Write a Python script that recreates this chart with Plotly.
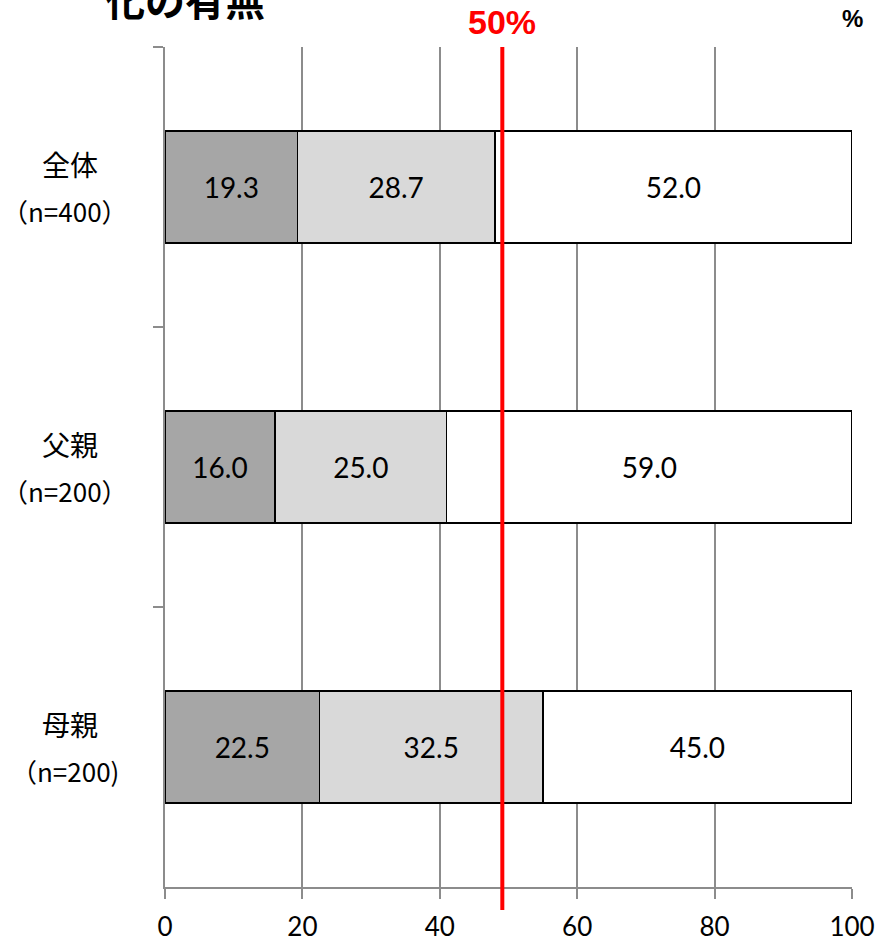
import plotly.graph_objects as go

categories = ["全体", "父親", "母親"]
category_sublabels = ["（n=400）", "（n=200）", "（n=200)"]
series_names = ["系列1", "系列2", "系列3"]
series_values = [
    [19.3, 16.0, 22.5],
    [28.7, 25.0, 32.5],
    [52.0, 59.0, 45.0],
]
series_colors = ["#a6a6a6", "#d9d9d9", "#ffffff"]
x_ticks = [0, 20, 40, 60, 80, 100]
ref_line_value = 49.1
ref_line_label = "50%"
unit_label = "%"
title_text = "化の有無"

W, H = 875, 943
ML, MR, MT, MB = 165, 23, 47, 56
PW, PH = W - ML - MR, H - MT - MB

NUM_FONT = "Lato, 'Noto Sans CJK JP', sans-serif"
JP_FONT = "'Noto Sans CJK JP', sans-serif"

fig = go.Figure()
for name, vals, col in zip(series_names, series_values, series_colors):
    fig.add_trace(go.Bar(
        y=categories, x=vals, name=name, orientation="h",
        marker=dict(color=col, line=dict(color="#000000", width=1.5)),
        width=0.4,
        text=[f"{v:.1f}" for v in vals],
        textposition="inside", insidetextanchor="middle",
        textfont=dict(family=NUM_FONT, size=28, color="#000000"),
        constraintext="none",
        showlegend=False, hoverinfo="skip",
    ))

fig.update_layout(
    barmode="stack",
    width=W, height=H, autosize=False,
    margin=dict(l=ML, r=MR, t=MT, b=MB, autoexpand=False),
    paper_bgcolor="white", plot_bgcolor="white",
)
fig.update_xaxes(
    range=[0, 100], tickvals=x_ticks, ticktext=[str(t) for t in x_ticks],
    showgrid=True, gridcolor="#8c8c8c", gridwidth=2,
    showline=True, linecolor="#8c8c8c", linewidth=2,
    ticks="outside", ticklen=10, tickwidth=2, tickcolor="#8c8c8c",
    ticklabelstandoff=6,
    tickfont=dict(family=NUM_FONT, size=26, color="#000000"),
    zeroline=False, fixedrange=True, automargin=False,
)
fig.update_yaxes(
    categoryorder="array", categoryarray=categories,
    autorange="reversed",
    showticklabels=False,
    showline=True, linecolor="#8c8c8c", linewidth=2,
    ticks="outside", ticklen=10, tickwidth=2, tickcolor="#8c8c8c",
    tickson="boundaries",
    showgrid=False, zeroline=False, fixedrange=True, automargin=False,
)

for cat, sub in zip(categories, category_sublabels):
    fig.add_annotation(
        x=(70 - ML) / PW, xref="paper", y=cat, yref="y", yshift=23,
        text=cat, showarrow=False,
        xanchor="center", yanchor="middle",
        font=dict(family=JP_FONT, size=28, color="#000000"),
    )
    fig.add_annotation(
        x=(65 - ML) / PW, xref="paper", y=cat, yref="y", yshift=-23,
        text=sub, showarrow=False,
        xanchor="center", yanchor="middle",
        font=dict(family=JP_FONT, size=26, color="#000000"),
    )

fig.add_shape(
    type="line", x0=ref_line_value, x1=ref_line_value, xref="x",
    y0=1, y1=-23 / PH, yref="paper",
    line=dict(color="#ff0000", width=4), layer="above",
)
fig.add_annotation(
    x=ref_line_value, xref="x", y=1 + 25 / PH, yref="paper",
    text=f"<b>{ref_line_label}</b>", showarrow=False,
    xanchor="center", yanchor="middle",
    font=dict(family="'Liberation Sans', Arial, sans-serif", size=34, color="#ff0000"),
)
fig.add_annotation(
    x=1, xref="paper", y=1 + 28 / PH, yref="paper",
    text=f"<b>{unit_label}</b>", showarrow=False,
    xanchor="center", yanchor="middle",
    font=dict(family="'Liberation Sans', Arial, sans-serif", size=24, color="#000000"),
)
fig.add_annotation(
    x=(185 - ML) / PW, xref="paper", y=1 + 17 / PH, yref="paper",
    text=f"<b>{title_text}</b>", showarrow=False,
    xanchor="center", yanchor="bottom",
    font=dict(family=JP_FONT, size=40, color="#000000"),
)

fig.write_html("out.html")
